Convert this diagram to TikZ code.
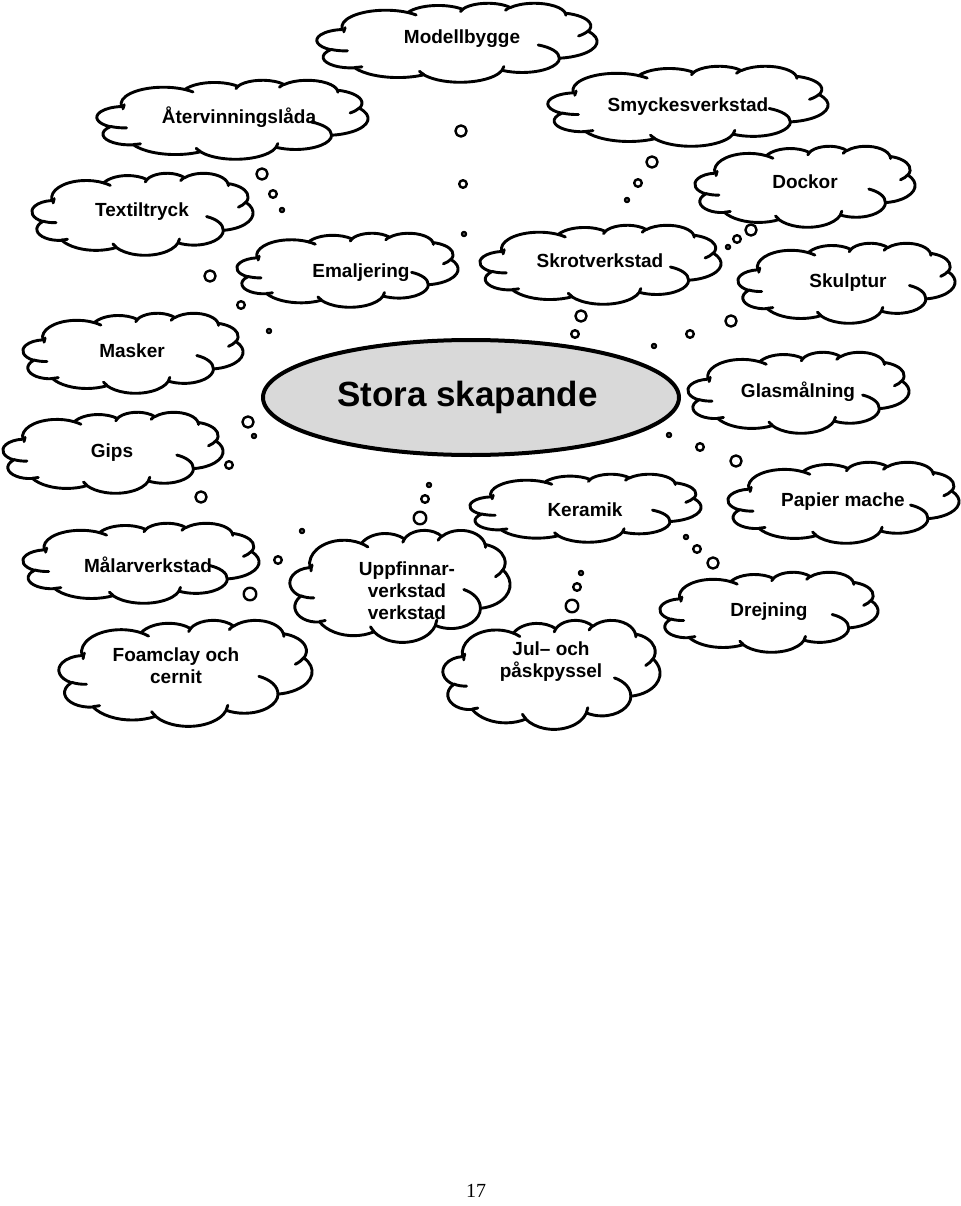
\documentclass[tikz,border=0pt]{standalone}
\usepackage{fontspec}
\setmainfont{Liberation Serif}
\newfontfamily\cloudfont{Liberation Sans}
\definecolor{hubgray}{RGB}{217,217,217}

\begin{document}
\begin{tikzpicture}[x=1pt, y=-1pt, line cap=round, line join=round,
  cloudline/.style={line width=2.9pt, fill=white},
  creaseline/.style={line width=2.9pt},
  bubble/.style={line width=2.4pt, fill=white},
  cloudtext/.style={font=\cloudfont\bfseries\fontsize{19}{22}\selectfont, inner sep=0pt, anchor=base, align=center},
  hubtext/.style={font=\cloudfont\bfseries\fontsize{35}{40}\selectfont, inner sep=0pt, anchor=base},
  %% Wolke im Einheitskasten 432 x 432, y nach unten
  wcloud/.pic={
    \draw[cloudline] (39.00,143.70)
      arc[start angle=-187.75, end angle=-59.63, x radius=67.53, y radius=91.90]
      arc[start angle=-152.03, end angle=-45.45, x radius=53.33, y radius=72.67]
      arc[start angle=-153.50, end angle=-37.33, x radius=43.65, y radius=59.45]
      arc[start angle=-139.72, end angle=-10.21, x radius=48.57, y radius=65.95]
      arc[start angle=-74.77, end angle=23.21, x radius=53.33, y radius=72.73]
      arc[start angle=-37.53, end angle=81.86, x radius=67.75, y radius=92.20]
      arc[start angle=0.46, end angle=121.98, x radius=57.85, y radius=78.67]
      arc[start angle=16.85, end angle=146.23, x radius=67.52, y radius=92.15]
      arc[start angle=58.99, end angle=150.18, x radius=77.20, y radius=105.43]
      arc[start angle=-276.69, end angle=-136.92, x radius=43.60, y radius=59.18]
      arc[start angle=-239.65, end angle=-95.89, x radius=43.45, y radius=59.45]
      -- cycle;
    % Falten
    \draw[creaseline] (46.93,261.77) arc[start angle=85.55, end angle=120.35, x radius=43.45, y radius=59.45];
    \draw[creaseline] (69.28,348.99) arc[start angle=68.24, end angle=83.31, x radius=43.60, y radius=59.18];
    \draw[creaseline] (164.78,390.90) arc[start angle=146.23, end angle=158.47, x radius=67.52, y radius=92.15];
    \draw[creaseline] (288.27,347.51) arc[start angle=4.74, end angle=16.85, x radius=67.52, y radius=92.15];
    \draw[creaseline] (341.29,229.54) arc[start angle=-64.03, end angle=0.46, x radius=57.85, y radius=78.67];
    \draw[creaseline] (417.98,153.54) arc[start angle=23.21, end angle=49.65, x radius=53.33, y radius=72.73];
    \draw[creaseline] (383.24,54.26) arc[start angle=-10.21, end angle=0.82, x radius=48.57, y radius=65.95];
    \draw[creaseline] (290.78,39.52) arc[start angle=-156.29, end angle=-139.72, x radius=48.57, y radius=65.95];
    \draw[creaseline] (221.41,47.20) arc[start angle=-167.73, end angle=-153.50, x radius=43.65, y radius=59.45];
    \draw[creaseline] (140.00,51.92) arc[start angle=-59.63, end angle=-45.74, x radius=67.53, y radius=91.90];
    \draw[creaseline] (41.27,157.89) arc[start angle=180, end angle=194.53, x radius=67.53, y radius=91.90];
  }]

  %% ==== Mitte ====
  \draw[line width=4pt, fill=hubgray] (471,397.5) ellipse [x radius=208, y radius=57.5];
  \node[hubtext] (stora) at (467.5,406) {Stora skapande};

  %% ==== Wolken (links oben, Breite, Hoehe) ====
  \pic[xscale=280/432, yscale=79/432] at (317,3) {wcloud};
  \pic[xscale=271/432, yscale=79/432] at (97,80) {wcloud};
  \pic[xscale=280/432, yscale=80/432] at (548,66) {wcloud};
  \pic[xscale=221/432, yscale=82/432] at (32,173) {wcloud};
  \pic[xscale=220/432, yscale=81/432] at (695,146) {wcloud};
  \pic[xscale=221/432, yscale=74/432] at (237,233) {wcloud};
  \pic[xscale=241/432, yscale=79/432] at (480,225) {wcloud};
  \pic[xscale=217/432, yscale=80/432] at (738,243) {wcloud};
  \pic[xscale=220/432, yscale=80/432] at (23,313) {wcloud};
  \pic[xscale=220/432, yscale=81/432] at (3,412) {wcloud};
  \pic[xscale=221/432, yscale=81/432] at (688,352) {wcloud};
  \pic[xscale=231/432, yscale=68/432] at (470,474) {wcloud};
  \pic[xscale=231/432, yscale=81/432] at (728,462) {wcloud};
  \pic[xscale=236/432, yscale=80/432] at (23,523) {wcloud};
  \pic[xscale=220/432, yscale=112/432] at (290,530) {wcloud};
  \pic[xscale=253/432, yscale=106/432] at (59,620) {wcloud};
  \pic[xscale=217/432, yscale=109/432] at (443,620) {wcloud};
  \pic[xscale=218/432, yscale=80/432] at (660,572) {wcloud};

  %% ==== Texte (Grundlinie; bei mehreren Zeilen die letzte) ====
  \node[cloudtext] (modell) at (462,44) {Modellbygge};
  \node[cloudtext] (atervinning) at (239,124) {Återvinningslåda};
  \node[cloudtext] (smycke) at (688,112) {Smyckesverkstad};
  \node[cloudtext] (textil) at (142,217) {Textiltryck};
  \node[cloudtext] (dockor) at (805,189) {Dockor};
  \node[cloudtext] (emalj) at (361,277) {Emaljering};
  \node[cloudtext] (skrot) at (600,267) {Skrotverkstad};
  \node[cloudtext] (skulptur) at (848,287) {Skulptur};
  \node[cloudtext] (masker) at (132,357) {Masker};
  \node[cloudtext] (gips) at (112,457) {Gips};
  \node[cloudtext] (glas) at (798,397) {Glasmålning};
  \node[cloudtext] (keramik) at (585,516) {Keramik};
  \node[cloudtext] (papier) at (843,506) {Papier mache};
  \node[cloudtext] (malar) at (148,572) {Målarverkstad};
  \node[cloudtext] (uppfinn) at (407,619) {Uppfinnar-\\verkstad\\verkstad};
  \node[cloudtext] (foam) at (176,683) {Foamclay och\\cernit};
  \node[cloudtext] (jul) at (551,677) {Jul– och\\påskpyssel};
  \node[cloudtext] (drejning) at (769,616) {Drejning};

  %% ==== Tankenblasen ====
  \draw[bubble] (262,174) circle (5.6);
  \draw[bubble] (273,194) circle (3.8);
  \draw[bubble] (282,210) circle (2.0);
  \draw[bubble] (461,131) circle (5.6);
  \draw[bubble] (463,184) circle (3.8);
  \draw[bubble] (464,234) circle (2.0);
  \draw[bubble] (652,162) circle (5.6);
  \draw[bubble] (638,183) circle (3.8);
  \draw[bubble] (627,200) circle (2.0);
  \draw[bubble] (751,230) circle (5.6);
  \draw[bubble] (737,239) circle (3.8);
  \draw[bubble] (728,247) circle (2.0);
  \draw[bubble] (210,276) circle (5.6);
  \draw[bubble] (241,305) circle (3.8);
  \draw[bubble] (269,331) circle (2.0);
  \draw[bubble] (581,316) circle (5.6);
  \draw[bubble] (575,334) circle (3.8);
  \draw[bubble] (654,346) circle (2.0);
  \draw[bubble] (690,334) circle (3.8);
  \draw[bubble] (731,321) circle (5.6);
  \draw[bubble] (248,422) circle (5.6);
  \draw[bubble] (254,436) circle (2.0);
  \draw[bubble] (229,465) circle (3.8);
  \draw[bubble] (201,497) circle (5.6);
  \draw[bubble] (669,435) circle (2.0);
  \draw[bubble] (700,447) circle (3.8);
  \draw[bubble] (736,461) circle (5.6);
  \draw[bubble] (429,485) circle (2.0);
  \draw[bubble] (425,499) circle (3.8);
  \draw[bubble] (420,518) circle (6.3);
  \draw[bubble] (302,531) circle (2.0);
  \draw[bubble] (278,560) circle (3.8);
  \draw[bubble] (250,594) circle (6.3);
  \draw[bubble] (686,537) circle (2.0);
  \draw[bubble] (697,549) circle (3.8);
  \draw[bubble] (713,563) circle (5.6);
  \draw[bubble] (581,573) circle (2.0);
  \draw[bubble] (577,587) circle (3.8);
  \draw[bubble] (572,606) circle (6.3);

  %% ==== Seitenzahl ====
  \node[inner sep=0pt, anchor=base, font=\fontsize{20}{24}\selectfont] (seite) at (476,1197) {17};

  \pgfresetboundingbox
  \path[use as bounding box] (0,0) rectangle (960,1206);
\end{tikzpicture}
\end{document}
